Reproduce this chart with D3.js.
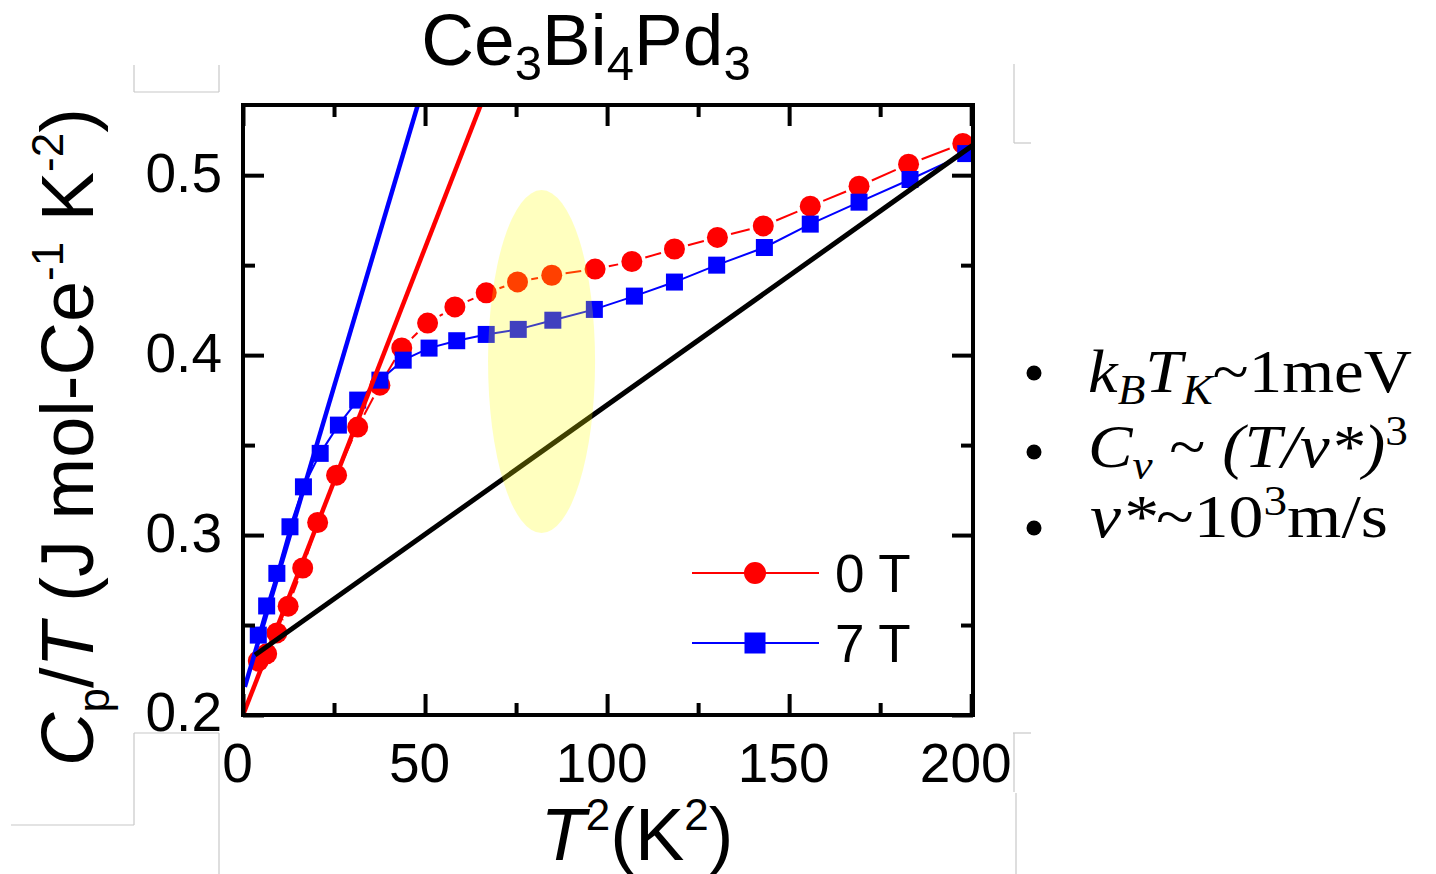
<!DOCTYPE html>
<html><head><meta charset="utf-8">
<script src="https://cdn.jsdelivr.net/npm/d3@7"></script>
<style>body{margin:0;background:#fff}svg{display:block}</style>
</head><body><svg id="c" width="1436" height="874"></svg>
<script>
// ---- data ----
const xTicks = [0, 50, 100, 150, 200];
const xMinor = [25, 75, 125, 175];
const yTicks = [0.2, 0.3, 0.4, 0.5];
const yMinor = [0.25, 0.35, 0.45];
const seriesNames = ["0 T", "7 T"];
const t0X = [4.2, 6.5, 9.3, 12.4, 16.4, 20.5, 25.7, 31.5, 37.6, 43.6, 50.7, 58.2, 66.8, 75.4, 84.8, 96.7, 106.8, 118.5, 130.3, 142.9, 155.8, 169.2, 182.8, 197.7];
const t0Y = [0.230, 0.234, 0.2456, 0.2605, 0.2817, 0.307, 0.3333, 0.360, 0.3833, 0.404, 0.4178, 0.4268, 0.4346, 0.4407, 0.4444, 0.4478, 0.452, 0.459, 0.4654, 0.4718, 0.4828, 0.4939, 0.5061, 0.5176];
const t7X = [4.2, 6.5, 9.3, 12.9, 16.6, 21.2, 26.2, 31.5, 37.6, 44.0, 51.1, 58.7, 66.8, 75.6, 85.1, 96.5, 107.5, 118.5, 130.1, 143.2, 155.8, 169.2, 183.2, 198.5];
const t7Y = [0.2444, 0.2606, 0.2787, 0.3046, 0.3268, 0.3454, 0.3611, 0.375, 0.3861, 0.3972, 0.4039, 0.408, 0.4115, 0.4143, 0.4194, 0.4254, 0.4328, 0.4406, 0.450, 0.4598, 0.4728, 0.485, 0.4976, 0.512];
const fit0 = [[0, 0.2], [65.3, 0.539]];
const fit7 = [[0.5, 0.2157], [48.0, 0.539]];
const fitLin = [[3.3, 0.2333], [200.5, 0.5167]];
const highlight = [82.0, 0.3964, 14.7, 0.0953]; // cx, cy, rx, ry in data units

// ---- layout ----
const svg = d3.select("#c");
svg.append("rect").attr("width", 1436).attr("height", 874).attr("fill", "#fff");
const L = 243, R = 973, T = 105, B = 715;
const x = d3.scaleLinear().domain([0, 200.5]).range([L, R]);
const y = d3.scaleLinear().domain([0.2, 0.539]).range([B, T]);
const sans = "'Liberation Sans', Arial, sans-serif";
const serif = "'Liberation Serif', 'DejaVu Serif', serif";

// faint slide artifact lines
const art = svg.append("g").attr("stroke", "#c8c8c8").attr("stroke-width", 1.2).attr("fill", "none");
[[134,65,134,92],[219,65,219,92],[134,92,219,92],
 [134,733,219,733],[134,733,134,825],[11,825,134,825],[219,733,219,874],
 [1014,64,1014,143],[1014,143,1031,143],
 [1013,733,1031,733],[1014,733,1014,792],[1016,793,1016,874]].forEach(d=>{
  art.append("line").attr("x1",d[0]).attr("y1",d[1]).attr("x2",d[2]).attr("y2",d[3]);
});

const plot = svg.append("g");
plot.append("clipPath").attr("id","clip").append("rect").attr("x",L).attr("y",T).attr("width",R-L).attr("height",B-T);
const inner = plot.append("g").attr("clip-path","url(#clip)");

// data series
const d0 = t0X.map((v,i)=>[v,t0Y[i]]);
const d7 = t7X.map((v,i)=>[v,t7Y[i]]);
const line = d3.line().x(d=>x(d[0])).y(d=>y(d[1]));

// blue connecting line
inner.append("path").datum(d7).attr("d", line).attr("fill","none").attr("stroke","#0000ff").attr("stroke-width",2);
// red connecting line with gaps at symbols
const gap = 14;
for (let i=0;i<d0.length-1;i++){
  const x1=x(d0[i][0]), y1=y(d0[i][1]), x2=x(d0[i+1][0]), y2=y(d0[i+1][1]);
  const len=Math.hypot(x2-x1,y2-y1);
  if (len <= 2*gap+1) continue;
  const ux=(x2-x1)/len, uy=(y2-y1)/len;
  inner.append("line").attr("x1",x1+ux*gap).attr("y1",y1+uy*gap).attr("x2",x2-ux*gap).attr("y2",y2-uy*gap)
    .attr("stroke","#ff0000").attr("stroke-width",2);
}
inner.selectAll("circle.d0").data(d0).join("circle").attr("class","d0")
  .attr("cx",d=>x(d[0])).attr("cy",d=>y(d[1])).attr("r",10.5).attr("fill","#ff0000");
const sq = 17;
inner.selectAll("rect.d7").data(d7).join("rect").attr("class","d7")
  .attr("x",d=>x(d[0])-sq/2).attr("y",d=>y(d[1])-sq/2).attr("width",sq).attr("height",sq).attr("fill","#0000ff");

// fit lines
inner.append("path").datum(fit0).attr("d",line).attr("stroke","#ff0000").attr("stroke-width",4.5).attr("fill","none");
inner.append("path").datum(fit7).attr("d",line).attr("stroke","#0000ff").attr("stroke-width",4.5).attr("fill","none");
inner.append("path").datum(fitLin).attr("d",line).attr("stroke","#000").attr("stroke-width",5).attr("fill","none");

// highlight ellipse
inner.append("ellipse")
  .attr("cx", x(highlight[0])).attr("cy", y(highlight[1]))
  .attr("rx", x(highlight[0]+highlight[2]) - x(highlight[0]))
  .attr("ry", y(highlight[1]-highlight[3]) - y(highlight[1]))
  .attr("fill","#ffff00").attr("fill-opacity",0.25);

// axes
function styleAxis(g){
  g.select(".domain").remove();
  g.selectAll(".tick line").attr("stroke","#000").attr("stroke-width",4);
  g.selectAll(".tick text").attr("fill","#000").style("font-family",sans).style("font-size","55px");
}
const gx = svg.append("g").attr("transform",`translate(0,${B})`)
  .call(d3.axisBottom(x).tickValues(xTicks).tickSize(-21).tickPadding(28).tickFormat(d3.format("d")));
styleAxis(gx); gx.selectAll(".tick text").attr("dx",-6);
const gxm = svg.append("g").attr("transform",`translate(0,${B})`)
  .call(d3.axisBottom(x).tickValues(xMinor).tickSize(-12).tickFormat(""));
styleAxis(gxm);
const gxt = svg.append("g").attr("transform",`translate(0,${T})`)
  .call(d3.axisTop(x).tickValues(xTicks).tickSize(-21).tickFormat(""));
styleAxis(gxt);
const gxtm = svg.append("g").attr("transform",`translate(0,${T})`)
  .call(d3.axisTop(x).tickValues(xMinor).tickSize(-12).tickFormat(""));
styleAxis(gxtm);
const gy = svg.append("g").attr("transform",`translate(${L},0)`)
  .call(d3.axisLeft(y).tickValues(yTicks).tickSize(-21).tickPadding(21).tickFormat(d3.format(".1f")));
styleAxis(gy); gy.selectAll(".tick text").attr("dy","0.29em");
const gym = svg.append("g").attr("transform",`translate(${L},0)`)
  .call(d3.axisLeft(y).tickValues(yMinor).tickSize(-12).tickFormat(""));
styleAxis(gym);
const gyr = svg.append("g").attr("transform",`translate(${R},0)`)
  .call(d3.axisRight(y).tickValues(yTicks).tickSize(-21).tickFormat(""));
styleAxis(gyr);
const gyrm = svg.append("g").attr("transform",`translate(${R},0)`)
  .call(d3.axisRight(y).tickValues(yMinor).tickSize(-12).tickFormat(""));
styleAxis(gyrm);
// frame
svg.append("rect").attr("x",L).attr("y",T).attr("width",R-L).attr("height",B-T)
  .attr("fill","none").attr("stroke","#000").attr("stroke-width",4);

// legend
const lg = svg.append("g");
const legY = [573, 643];
lg.append("line").attr("x1",692).attr("x2",819).attr("y1",legY[0]).attr("y2",legY[0]).attr("stroke","#ff0000").attr("stroke-width",2);
lg.append("circle").attr("cx",755).attr("cy",legY[0]).attr("r",11).attr("fill","#ff0000");
lg.append("line").attr("x1",692).attr("x2",819).attr("y1",legY[1]).attr("y2",legY[1]).attr("stroke","#0000ff").attr("stroke-width",2);
lg.append("rect").attr("x",755-10.5).attr("y",legY[1]-10.5).attr("width",21).attr("height",21).attr("fill","#0000ff");
seriesNames.forEach((n,i)=>{
  lg.append("text").attr("x",835).attr("y",legY[i]+19).text(n)
    .style("font-family",sans).style("font-size","53px").attr("fill","#000");
});

// title
const title = svg.append("text").attr("x",586).attr("y",65).attr("text-anchor","middle")
  .style("font-family",sans).style("font-size","73px").attr("fill","#000");
[["Ce",0],["3",1],["Bi",0],["4",1],["Pd",0],["3",1]].forEach(([t,s])=>{
  const ts = title.append("tspan").text(t);
  if (s) ts.attr("baseline-shift","-15").style("font-size","49px");
});

// x title
const xt = svg.append("text").attr("x",637).attr("y",860).attr("text-anchor","middle")
  .style("font-family",sans).style("font-size","74px").attr("fill","#000");
xt.append("tspan").text("T").style("font-style","italic");
xt.append("tspan").text("2").attr("baseline-shift","30").style("font-size","44px");
xt.append("tspan").text("(K");
xt.append("tspan").text("2").attr("baseline-shift","30").style("font-size","44px");
xt.append("tspan").text(")");

// y title
const yt = svg.append("text").attr("transform","translate(93,437) rotate(-90)").attr("text-anchor","middle")
  .style("font-family",sans).style("font-size","74px").attr("fill","#000");
yt.append("tspan").text("C").style("font-style","italic");
yt.append("tspan").text("p").attr("baseline-shift","-16").style("font-size","44px");
yt.append("tspan").text("/");
yt.append("tspan").text("T").style("font-style","italic");
yt.append("tspan").text(" (J mol-Ce");
yt.append("tspan").text("-1").attr("baseline-shift","30").style("font-size","44px");
yt.append("tspan").text(" K");
yt.append("tspan").text("-2").attr("baseline-shift","30").style("font-size","44px");
yt.append("tspan").text(")");

// right-side notes
const notes = svg.append("g").style("font-family",serif).attr("fill","#000");
[373, 452, 528].forEach(cy=>notes.append("circle").attr("cx",1034).attr("cy",cy).attr("r",7.5).attr("fill","#000"));
const n1 = notes.append("text").attr("x",1088).attr("y",392).style("font-size","62px")
  .attr("textLength",324).attr("lengthAdjust","spacingAndGlyphs");
n1.append("tspan").text("k").style("font-style","italic");
n1.append("tspan").text("B").style("font-style","italic").style("font-size","42px").attr("baseline-shift","-12");
n1.append("tspan").text("T").style("font-style","italic");
n1.append("tspan").text("K").style("font-style","italic").style("font-size","42px").attr("baseline-shift","-12");
n1.append("tspan").text("~1meV");
const n2 = notes.append("text").attr("x",1088).attr("y",467).style("font-size","62px")
  .attr("textLength",320).attr("lengthAdjust","spacingAndGlyphs");
n2.append("tspan").text("C").style("font-style","italic");
n2.append("tspan").text("v").style("font-style","italic").style("font-size","42px").attr("baseline-shift","-12");
n2.append("tspan").text(" ~ ");
n2.append("tspan").text("(T/v*)").style("font-style","italic");
n2.append("tspan").text("3").style("font-size","42px").attr("baseline-shift","22");
const n3 = notes.append("text").attr("x",1090).attr("y",537).style("font-size","62px")
  .attr("textLength",298).attr("lengthAdjust","spacingAndGlyphs");
n3.append("tspan").text("v*").style("font-style","italic");
n3.append("tspan").text("~10");
n3.append("tspan").text("3").style("font-size","42px").attr("baseline-shift","22");
n3.append("tspan").text("m/s");
</script></body></html>
